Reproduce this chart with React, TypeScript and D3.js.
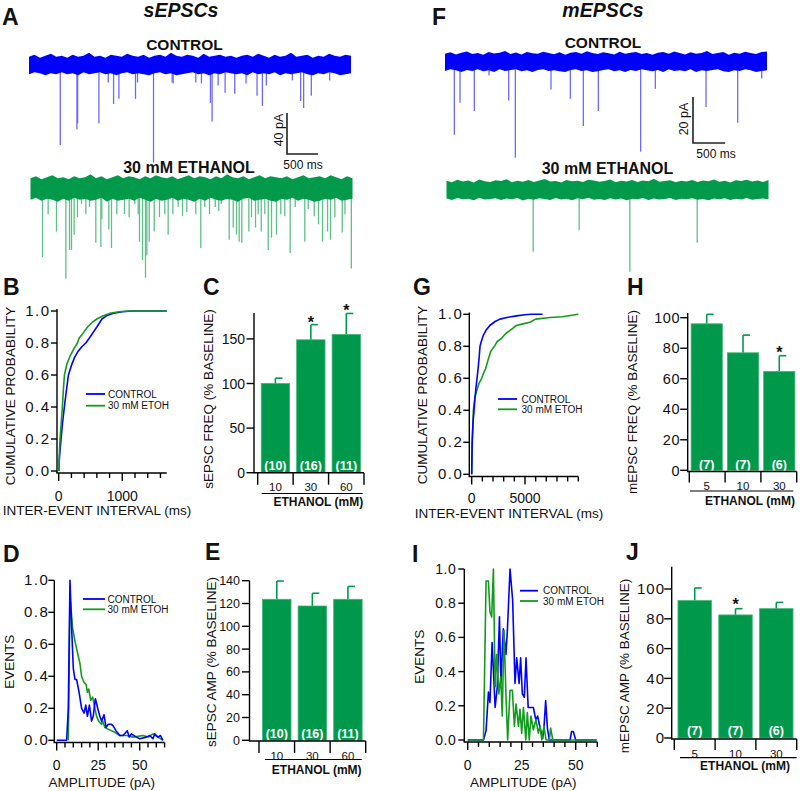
import React from "react";
import * as d3 from "d3";

const FONT = "'Liberation Sans', Arial, Helvetica, sans-serif";
const BLUE = "#0000ff";
const BLUE_EV = "#6a6aff";
const GREEN_TR = "#009a4a";
const GREEN_EV = "#5fbf88";
const LINE_GREEN = "#149a1e";
const BAR_GREEN = "#00994c";
const BAR_EDGE = "#3db577";

// ---------------- Panel A: sEPSC traces (ms, pA) ----------------
const sCtrlEvents: [number, number][] = [
  [505, 78], [774, 63], [785, 57], [1129, 57], [1280, 17], [1366, 38], [1452, 33],
  [1720, 33], [1753, 17], [2011, 95], [2312, 17], [2328, 18], [2694, 17], [2785, 18],
  [2930, 37], [2957, 55], [3054, 20], [3167, 27], [3323, 28], [3505, 18], [3683, 30],
  [3769, 40], [3833, 20], [4253, 15], [4387, 35], [4435, 42], [4559, 30], [4855, 15],
];
const sEthEvents: [number, number][] = [
  [194, 67], [285, 25], [420, 42], [571, 88], [630, 60], [662, 60], [705, 45], [759, 28],
  [824, 15], [894, 25], [953, 18], [1055, 53], [1136, 57], [1152, 30], [1265, 40], [1308, 58],
  [1394, 25], [1518, 25], [1593, 28], [1685, 15], [1739, 25], [1760, 52], [1809, 70], [1857, 87],
  [1879, 65], [1917, 52], [1998, 42], [2083, 28], [2169, 25], [2223, 45], [2299, 25], [2385, 18],
  [2455, 27], [2524, 23], [2670, 25], [2750, 58], [2815, 18], [2891, 25], [2983, 18], [3041, 22],
  [3080, 15], [3209, 50], [3274, 38], [3327, 45], [3370, 52], [3413, 53], [3526, 42], [3569, 28],
  [3634, 38], [3677, 25], [3726, 42], [3784, 25], [3839, 60], [3892, 48], [3973, 45], [4042, 25],
  [4107, 27], [4194, 63], [4275, 18], [4430, 52], [4485, 20], [4582, 27], [4651, 35], [4716, 52],
  [4797, 42], [4845, 50], [4915, 28], [5034, 43], [5078, 25], [5181, 78],
];
const sCtrlNoiseUp = [8, 10, 7, 9, 11, 8, 9, 7, 10, 8, 9, 12, 8, 9, 7, 10, 9, 8, 11, 9, 8, 10, 7, 9, 10, 8, 12, 9, 8, 10, 9, 7, 11, 8, 9, 10, 8, 9, 7, 9, 10, 8, 11, 9, 7, 10, 8, 9, 12, 8, 9, 10, 7, 9, 8, 11, 9, 8, 10, 9];
const sCtrlNoiseDn = [9, 7, 8, 10, 8, 9, 7, 9, 8, 10, 7, 9, 8, 7, 9, 8, 10, 8, 7, 9, 8, 9, 10, 8, 7, 9, 8, 10, 9, 8, 7, 9, 8, 10, 8, 9, 7, 8, 9, 8, 10, 7, 9, 8, 9, 7, 10, 8, 9, 8, 7, 9, 10, 8, 9, 7, 8, 10, 9, 8];
const sEthNoiseUp = [10, 12, 9, 11, 13, 10, 11, 9, 12, 10, 11, 14, 10, 12, 9, 11, 13, 10, 12, 11, 9, 12, 10, 13, 11, 10, 12, 9, 11, 13, 10, 12, 11, 9, 12, 10, 14, 11, 10, 12, 9, 11, 13, 10, 12, 11, 10, 12, 9, 11, 13, 10, 11, 12, 10, 13, 11, 9, 12, 10];
const sEthNoiseDn = [11, 9, 12, 10, 11, 13, 10, 12, 9, 11, 10, 12, 11, 9, 13, 10, 12, 11, 10, 12, 9, 11, 13, 10, 12, 11, 9, 12, 10, 11, 13, 10, 12, 9, 11, 12, 10, 11, 13, 10, 9, 12, 11, 10, 12, 13, 10, 11, 9, 12, 10, 11, 13, 12, 10, 11, 9, 12, 11, 10];

// ---------------- Panel F: mEPSC traces (ms, pA) ----------------
const mCtrlEvents: [number, number][] = [
  [145, 31.6], [233, 17.7], [455, 21.3], [683, 5.8], [989, 16.7], [1092, 41.6], [1646, 12],
  [1946, 16], [2148, 27.8], [2381, 21.3], [3038, 39], [3266, 11.6], [4053, 19.6], [4545, 26.4],
  [4918, 7.2],
];
const mEthEvents: [number, number][] = [[1346, 26.8], [2060, 17.5], [2847, 35.5], [3893, 22.9]];
const mCtrlNoiseUp = [3.6, 4.2, 3.3, 4.0, 4.6, 3.5, 3.9, 3.2, 4.3, 3.7, 4.0, 4.8, 3.5, 4.1, 3.3, 4.4, 3.8, 3.6, 4.5, 3.9, 3.4, 4.2, 3.2, 4.0, 4.3, 3.6, 4.7, 3.9, 3.5, 4.2, 3.8, 3.3, 4.5, 3.6, 4.0, 4.3, 3.5, 3.9, 3.2, 4.0, 4.4, 3.6, 4.6, 3.9, 3.3, 4.2, 3.6, 3.9, 4.8, 3.5, 3.9, 4.3, 3.2, 4.0, 3.6, 4.5, 3.9, 3.5, 4.3, 4.6];
const mCtrlNoiseDn = [3.9, 3.2, 3.6, 4.3, 3.5, 3.9, 3.1, 4.0, 3.6, 4.4, 3.2, 3.9, 3.5, 3.2, 4.0, 3.6, 4.4, 3.5, 3.2, 3.9, 3.6, 4.0, 4.4, 3.5, 3.2, 3.9, 3.6, 4.4, 4.0, 3.5, 3.2, 4.0, 3.6, 4.3, 3.5, 3.9, 3.2, 3.6, 4.0, 3.5, 4.4, 3.2, 3.9, 3.6, 4.0, 3.2, 4.4, 3.6, 3.9, 3.5, 3.2, 4.0, 4.4, 3.6, 3.9, 3.2, 3.6, 4.3, 3.9, 3.6];
const mEthNoiseUp = [4.0, 3.4, 4.5, 3.7, 4.1, 3.3, 4.6, 3.8, 3.5, 4.2, 3.9, 4.7, 3.4, 4.0, 3.6, 4.3, 3.5, 4.1, 4.8, 3.7, 3.9, 3.3, 4.4, 3.8, 4.0, 3.5, 4.5, 4.1, 3.6, 3.9, 4.6, 3.4, 4.0, 3.7, 4.3, 3.5, 4.1, 3.8, 4.9, 3.6, 3.9, 4.2, 3.4, 4.0, 3.7, 4.4, 3.5, 4.1, 3.8, 4.6, 3.6, 4.0, 3.3, 4.2, 3.9, 4.5, 3.7, 4.1, 3.5, 4.4];
const mEthNoiseDn = [3.7, 4.3, 3.5, 4.0, 3.8, 4.5, 3.4, 4.1, 3.9, 3.6, 4.4, 3.7, 4.0, 3.5, 4.6, 3.8, 4.2, 3.6, 3.9, 4.3, 3.5, 4.1, 3.8, 4.5, 3.6, 4.0, 3.4, 4.2, 3.9, 4.4, 3.6, 4.1, 3.7, 4.5, 3.8, 4.0, 3.5, 4.3, 3.7, 4.1, 3.9, 3.5, 4.4, 3.8, 4.0, 3.6, 4.2, 3.9, 4.5, 3.7, 4.0, 3.6, 4.3, 3.8, 4.1, 3.5, 4.2, 3.9, 3.7, 4.0];

// ---------------- Panel B: cumulative inter-event interval (ms) ----------------
const bCtrl: [number, number][] = [[0, 0], [15, 0.1], [37, 0.2], [60, 0.3], [89, 0.4], [120, 0.5], [153, 0.6], [200, 0.66], [250, 0.71], [300, 0.745], [360, 0.775], [426, 0.8], [480, 0.83], [540, 0.865], [600, 0.9], [680, 0.95], [750, 0.97], [850, 0.985], [1000, 0.995], [1150, 1.0], [1700, 1.0]];
const bEtoh: [number, number][] = [[0, 0], [10, 0.1], [21, 0.2], [40, 0.3], [58, 0.4], [72, 0.5], [90, 0.6], [130, 0.67], [180, 0.72], [240, 0.765], [295, 0.8], [320, 0.83], [380, 0.86], [453, 0.9], [530, 0.93], [600, 0.95], [700, 0.97], [800, 0.985], [950, 0.995], [1100, 1.0], [1700, 1.0]];

// ---------------- Panel D: amplitude histogram (pA) ----------------
const dCtrl: [number, number][] = [[0, 0], [6, 0], [7, 0.2], [8, 1.0], [9, 0.7], [10, 0.45], [11, 0.38], [12, 0.38], [13.5, 0.3], [15, 0.2], [16.5, 0.17], [17.5, 0.22], [18.5, 0.15], [19.7, 0.22], [21, 0.12], [22, 0.15], [23.3, 0.26], [24.7, 0.2], [26, 0.15], [27, 0.12], [28.5, 0.16], [29.7, 0.08], [31, 0.1], [33, 0.1], [34, 0.09], [35.7, 0.06], [38, 0.03], [40, 0.03], [42.5, 0.06], [43.7, 0.02], [45, 0.04], [48, 0.02], [50, 0.01], [54, 0.02], [56, 0.03], [58, 0.01], [59, 0.04], [61, 0.02], [62.5, 0.03], [64, 0]];
const dEtoh: [number, number][] = [[7, 0], [8, 0.9], [9.6, 0.7], [11, 0.62], [12.5, 0.55], [14, 0.48], [15, 0.4], [16.5, 0.36], [17.7, 0.35], [18.5, 0.3], [19.3, 0.32], [20.5, 0.25], [21.7, 0.27], [23, 0.2], [24, 0.15], [25.3, 0.12], [27, 0.1], [27.7, 0.12], [29, 0.08], [31, 0.07], [35, 0.05], [38, 0.03], [42, 0.03], [46, 0.02], [52, 0.03], [55, 0.02], [58, 0.04], [61, 0.02], [64, 0]];

// ---------------- Panel G: cumulative inter-event interval (ms) ----------------
const gCtrl: [number, number][] = [[0, 0], [40, 0.2], [120, 0.32], [220, 0.4], [300, 0.47], [400, 0.54], [500, 0.6], [600, 0.66], [700, 0.73], [780, 0.8], [900, 0.83], [1100, 0.87], [1340, 0.9], [1700, 0.93], [2190, 0.955], [2650, 0.97], [3300, 0.98], [4200, 0.99], [5000, 0.997], [5600, 1.0], [6650, 1.0]];
const gEtoh: [number, number][] = [[0, 0], [60, 0.2], [156, 0.4], [300, 0.48], [500, 0.53], [700, 0.57], [940, 0.6], [1100, 0.63], [1300, 0.66], [1560, 0.72], [1800, 0.77], [2125, 0.8], [2400, 0.83], [2800, 0.85], [3200, 0.88], [3600, 0.9], [4200, 0.93], [4800, 0.94], [5470, 0.95], [6000, 0.97], [7340, 0.98], [8500, 0.985], [10000, 1.0]];

// ---------------- Panel I: amplitude histogram (pA) ----------------
const iCtrl: [number, number][] = [[0, 0], [7.3, 0], [8.5, 0.055], [9.6, 0.28], [10.3, 0.22], [11.3, 0.57], [12.7, 0.19], [13.7, 0.31], [14.7, 0.72], [15.4, 0.33], [16.5, 0.65], [17.7, 0.5], [18.4, 0.65], [19.6, 1.0], [20.8, 0.82], [21.9, 0.33], [22.7, 0.48], [23.8, 0.33], [24.5, 0.48], [25.3, 0.27], [26.2, 0.25], [27, 0.48], [28, 0.19], [29.2, 0.19], [30.4, 0.19], [31.5, 0.12], [32.4, 0.14], [33.5, 0.07], [34.7, 0.01], [35.3, 0.07], [36.1, 0.23], [36.9, 0.07], [37.8, 0], [47.4, 0], [48.1, 0.05], [48.9, 0.05], [50, 0], [59.7, 0]];
const iEtoh: [number, number][] = [[0, 0], [7.3, 0], [8.5, 0.93], [9.6, 0.93], [10.3, 0.75], [11.1, 0.72], [11.9, 1.0], [12.7, 0.31], [13.4, 0.5], [14.4, 0.27], [15.3, 0.37], [16, 0.14], [16.8, 0.64], [17.7, 0.27], [18.5, 0], [19.6, 0.29], [20.7, 0.29], [21.6, 0.08], [22.4, 0.21], [23.5, 0.08], [24.2, 0.18], [25, 0.04], [25.8, 0.19], [26.9, 0], [27.6, 0.16], [28.5, 0], [29.3, 0.14], [30.4, 0.06], [31.6, 0.12], [32.7, 0.04], [33.5, 0.08], [34.3, 0], [35.3, 0.08], [36.3, 0], [37.8, 0], [38.4, 0.07], [39.4, 0], [59.7, 0]];

// ---------------- Bar charts ----------------
const sCats = ["10", "30", "60"];
const sN = ["(10)", "(16)", "(11)"];
const sFreqMean = [100, 149, 155];
const sFreqSem = [6, 17, 23.5];
const sFreqSig = [false, true, true];
const sAmpMean = [123.7, 117.8, 123.7];
const sAmpSem = [16, 11.2, 11.3];
const sAmpSig = [false, false, false];
const mCats = ["5", "10", "30"];
const mN = ["(7)", "(7)", "(6)"];
const mFreqMean = [96, 77, 64.8];
const mFreqSem = [6.2, 11.6, 10.3];
const mFreqSig = [false, false, true];
const mAmpMean = [92.2, 82.6, 86.8];
const mAmpSem = [8.5, 4.2, 4.2];
const mAmpSig = [false, true, false];

const LEG = ["CONTROL", "30 mM ETOH"];

function Trace({ x, y0, k, up, dn, events, dur, color, evColor }: any) {
  const n = up.length;
  const ts = up.map((_: number, i: number) => (i * dur) / (n - 1));
  const area = d3
    .area<number>()
    .x((_, i) => x(ts[i]))
    .y0((_, i) => y0 + dn[i] * k)
    .y1((_, i) => y0 - up[i] * k);
  return (
    <g>
      {events.map((e: [number, number], i: number) => (
        <line key={i} x1={x(e[0])} x2={x(e[0])} y1={y0} y2={y0 + e[1] * k} stroke={evColor} strokeWidth={1.3} />
      ))}
      <path d={area(up) || ""} fill={color} />
    </g>
  );
}

function ScaleBar({ cx, cy, x, k, pa, ms, paLabel, msLabel, paX, paY, msX, msY }: any) {
  const h = pa * k;
  const w = x(ms) - x(0);
  return (
    <g>
      <path d={`M${cx},${cy - h}V${cy}H${cx + w}`} fill="none" stroke="#222" strokeWidth={1.6} />
      <text transform={`translate(${paX},${paY}) rotate(-90)`} textAnchor="middle" fontSize={12.5}>{paLabel}</text>
      <text x={msX} y={msY} textAnchor="middle" fontSize={12}>{msLabel}</text>
    </g>
  );
}

function LinePanel(p: any) {
  const x = d3.scaleLinear().domain(p.xd).range(p.xr);
  const y = d3.scaleLinear().domain([0, 1]).range(p.yr);
  const line = d3.line<[number, number]>().x((d) => x(d[0])).y((d) => y(d[1]));
  const yTicks = d3.range(0, 1.0001, 0.2);
  const minor = d3.range(0, p.xd[1] + 0.001, p.minorStep);
  return (
    <g>
      <line x1={p.ax} x2={p.ax} y1={y(p.yTopV)} y2={p.axisY} stroke="#000" strokeWidth={1.4} />
      {yTicks.map((v: number) => (
        <g key={v}>
          <line x1={p.ax - 6} x2={p.ax} y1={y(v)} y2={y(v)} stroke="#000" strokeWidth={1.4} />
          <text x={p.ax - p.labGap} y={y(v) + 5} textAnchor="end" fontSize={p.yFont} letterSpacing={p.yLS}>{v.toFixed(1)}</text>
        </g>
      ))}
      <line x1={p.ax - 0.7} x2={p.xr[1]} y1={p.axisY} y2={p.axisY} stroke="#000" strokeWidth={1.4} />
      {minor.map((v: number) => (
        <line key={v} x1={x(v)} x2={x(v)} y1={p.axisY} y2={p.axisY + (p.xMajor.includes(v) ? 8 : 5)} stroke="#000" strokeWidth={1.4} />
      ))}
      {p.xMajor.map((v: number) => (
        <text key={v} x={x(v)} y={p.xLabelY} textAnchor="middle" fontSize={14}>{v}</text>
      ))}
      <text x={p.xTitleX} y={p.xTitleY} textAnchor="middle" fontSize={13.5}>{p.xTitle}</text>
      <text transform={`translate(${p.yTitleX},${p.yTitleY}) rotate(-90)`} textAnchor="middle" fontSize={13.5}>{p.yTitle}</text>
      {p.series.map((s: any, i: number) => (
        <path key={i} d={line(s.data) || ""} fill="none" stroke={s.color} strokeWidth={1.6} strokeLinejoin="round" />
      ))}
      {[BLUE, LINE_GREEN].map((c, i) => (
        <g key={c}>
          <line x1={p.legX1} x2={p.legX2} y1={p.legY[i]} y2={p.legY[i]} stroke={c} strokeWidth={1.8} />
          <text x={p.legTX} y={p.legY[i] + 3.6} fontSize={10}>{LEG[i]}</text>
        </g>
      ))}
    </g>
  );
}

function BarPanel(p: any) {
  const y = d3.scaleLinear().domain(p.yd).range(p.yr);
  const x = d3.scaleBand<string>().domain(p.cats).range(p.band).paddingInner(p.padIn).paddingOuter(p.padOut);
  const seps = d3.range(0, p.cats.length + 1).map((i: number) => p.band[0] + (i * (p.band[1] - p.band[0])) / p.cats.length);
  const bw = x.bandwidth();
  return (
    <g>
      {p.cats.map((c: string, i: number) => {
        const cx = (x(c) || 0) + bw / 2;
        const top = y(p.mean[i]);
        const et = y(p.mean[i] + p.sem[i]);
        return (
          <g key={c}>
            <line x1={cx} x2={cx} y1={top} y2={et} stroke={BAR_GREEN} strokeWidth={1.6} />
            <line x1={cx} x2={cx + 7} y1={et} y2={et} stroke={BAR_GREEN} strokeWidth={1.6} />
            <rect x={x(c)} y={top} width={bw} height={y(0) - top} fill={BAR_GREEN} stroke={BAR_EDGE} strokeWidth={0.8} />
            <text x={cx} y={p.nY} textAnchor="middle" fontSize={12.5} fontWeight="bold" fill="#fff">{p.ns[i]}</text>
            {p.sig[i] && (
              <text x={cx} y={et + p.astOff} textAnchor="middle" fontSize={16} fontWeight="bold">*</text>
            )}
            <text x={(x(c) || 0) + bw / 2} y={p.catY} textAnchor="middle" fontSize={11.5}>{c}</text>
          </g>
        );
      })}
      <line x1={p.ax} x2={p.ax} y1={y(p.axisTopV)} y2={p.xAxisY} stroke="#000" strokeWidth={1.4} />
      {p.yTicks.map((v: number) => (
        <g key={v}>
          <line x1={p.ax - 7.5} x2={p.ax} y1={y(v)} y2={y(v)} stroke="#000" strokeWidth={1.4} />
          <text x={p.labelRight} y={y(v) + 0.36 * p.yFont} textAnchor="end" fontSize={p.yFont} letterSpacing={p.yLS}>{v}</text>
        </g>
      ))}
      <line x1={p.ax - 0.7} x2={p.band[1]} y1={p.xAxisY} y2={p.xAxisY} stroke="#000" strokeWidth={1.4} />
      {seps.map((s: number, i: number) => (
        <line key={i} x1={s} x2={s} y1={p.xAxisY} y2={p.xAxisY + p.tickLen} stroke="#000" strokeWidth={1.4} />
      ))}
      <line x1={p.under[0]} x2={p.under[1]} y1={p.underY} y2={p.underY} stroke="#000" strokeWidth={1.2} />
      <text x={p.ethX} y={p.ethY} textAnchor="middle" fontSize={12} fontWeight="bold">ETHANOL (mM)</text>
      <text transform={`translate(${p.yTitleX},${p.yTitleY}) rotate(-90)`} textAnchor="middle" fontSize={13.5}>{p.yTitle}</text>
    </g>
  );
}

export default function App() {
  const sx = d3.scaleLinear().domain([0, 5200]).range([29, 351]);
  const sxE = d3.scaleLinear().domain([0, 5200]).range([30.5, 352.5]);
  const mx = d3.scaleLinear().domain([0, 5000]).range([445, 767]);
  const mxE = d3.scaleLinear().domain([0, 5000]).range([446.5, 768.5]);
  const sK = 1.025;
  const mK = 2.3;
  const letter = (t: string, x: number, y: number) => (
    <text x={x} y={y} fontSize={23} fontWeight="bold">{t}</text>
  );
  return (
    <svg width={800} height={791} style={{ position: "absolute", left: 0, top: 0 }} fontFamily={FONT}>
      <rect width={800} height={791} fill="#fff" />
      <g fill="#111">
        {letter("A", 2, 25)}
        {letter("F", 432, 25)}
        {letter("B", 3, 295)}
        {letter("C", 203, 295)}
        {letter("G", 413, 295)}
        {letter("H", 627, 295)}
        {letter("D", 3, 562)}
        {letter("E", 205, 560)}
        {letter("I", 412, 562)}
        {letter("J", 626, 560)}
        <text x={181} y={17} textAnchor="middle" fontSize={19.5} fontWeight="bold" fontStyle="italic">sEPSCs</text>
        <text x={603} y={17} textAnchor="middle" fontSize={19.5} fontWeight="bold" fontStyle="italic">mEPSCs</text>
        <text x={184.5} y={50} textAnchor="middle" fontSize={15.5} fontWeight="bold">CONTROL</text>
        <text x={189} y={173.3} textAnchor="middle" fontSize={16} fontWeight="bold">30 mM ETHANOL</text>
        <text x={603} y={48.3} textAnchor="middle" fontSize={15.5} fontWeight="bold">CONTROL</text>
        <text x={607.5} y={174} textAnchor="middle" fontSize={16} fontWeight="bold">30 mM ETHANOL</text>
      </g>

      <Trace x={sx} y0={65} k={sK} up={sCtrlNoiseUp} dn={sCtrlNoiseDn} events={sCtrlEvents} dur={5200} color={BLUE} evColor={BLUE_EV} />
      <Trace x={sxE} y0={188.5} k={sK} up={sEthNoiseUp} dn={sEthNoiseDn} events={sEthEvents} dur={5200} color={GREEN_TR} evColor={GREEN_EV} />
      <Trace x={mx} y0={62} k={mK} up={mCtrlNoiseUp} dn={mCtrlNoiseDn} events={mCtrlEvents} dur={5000} color={BLUE} evColor={BLUE_EV} />
      <Trace x={mxE} y0={190} k={mK} up={mEthNoiseUp} dn={mEthNoiseDn} events={mEthEvents} dur={5000} color={GREEN_TR} evColor={GREEN_EV} />

      <g fill="#111">
        <ScaleBar cx={287} cy={154} x={sx} k={sK} pa={40} ms={500} paLabel="40 pA" msLabel="500 ms" paX={283} paY={130} msX={303} msY={169.3} />
        <ScaleBar cx={693} cy={143} x={mx} k={mK} pa={20} ms={500} paLabel="20 pA" msLabel="500 ms" paX={688} paY={119} msX={716} msY={158} />

        <LinePanel
          ax={57} xd={[0, 1700]} xr={[58.7, 166.8]} yr={[471, 311]} axisY={473} yTopV={1.012}
          minorStep={200} xMajor={[0, 1000]} xLabelY={500.5} yFont={15} yLS={1.5} labGap={6.5}
          xTitle="INTER-EVENT INTERVAL (ms)" xTitleX={97} xTitleY={514.5}
          yTitle="CUMULATIVE PROBABILITY" yTitleX={14.5} yTitleY={396}
          series={[{ data: bCtrl, color: BLUE }, { data: bEtoh, color: LINE_GREEN }]}
          legX1={86} legX2={105} legY={[394, 405.7]} legTX={108}
        />
        <LinePanel
          ax={54.3} xd={[0, 65]} xr={[56.7, 164.6]} yr={[740.3, 580.3]} axisY={742.5} yTopV={1.0}
          minorStep={5} xMajor={[0, 25, 50]} xLabelY={770} yFont={15} yLS={1.5} labGap={5}
          xTitle="AMPLITUDE (pA)" xTitleX={101.7} xTitleY={787}
          yTitle="EVENTS" yTitleX={13.5} yTitleY={661.7}
          series={[{ data: dEtoh, color: LINE_GREEN }, { data: dCtrl, color: BLUE }]}
          legX1={83} legX2={105} legY={[599, 609.3]} legTX={107.5}
        />
        <LinePanel
          ax={469.3} xd={[0, 10000]} xr={[471.7, 578.3]} yr={[474.3, 314.3]} axisY={476.5} yTopV={1.012}
          minorStep={1000} xMajor={[0, 5000]} xLabelY={503} yFont={15} yLS={1.5} labGap={6}
          xTitle="INTER-EVENT INTERVAL (ms)" xTitleX={509} xTitleY={518}
          yTitle="CUMULATIVE PROBABILITY" yTitleX={426.5} yTitleY={395}
          series={[{ data: gEtoh, color: LINE_GREEN }, { data: gCtrl, color: BLUE }]}
          legX1={498} legX2={517} legY={[399, 409.3]} legTX={521.5}
        />
        <LinePanel
          ax={464.3} xd={[0, 60]} xr={[467.7, 597.3]} yr={[740, 569]} axisY={742} yTopV={1.0}
          minorStep={5} xMajor={[0, 25, 50]} xLabelY={770} yFont={14} yLS={0.5} labGap={8}
          xTitle="AMPLITUDE (pA)" xTitleX={523.3} xTitleY={787}
          yTitle="EVENTS" yTitleX={423.5} yTitleY={656.7}
          series={[{ data: iCtrl, color: BLUE }, { data: iEtoh, color: LINE_GREEN }]}
          legX1={520} legX2={538} legY={[590.7, 601]} legTX={543}
        />

        <BarPanel
          cats={sCats} mean={sFreqMean} sem={sFreqSem} sig={sFreqSig} ns={sN}
          ax={254} yd={[0, 150]} yr={[472.7, 338.9]} axisTopV={179} yTicks={[0, 50, 100, 150]} labelRight={245} yFont={14} yLS={0}
          xAxisY={472.7} band={[257.7, 364]} padIn={0.2} padOut={0.1} tickLen={12}
          catY={491} underY={493.5} under={[261.7, 362.7]} ethX={318.3} ethY={506} nY={469.5} astOff={3}
          yTitle="sEPSC FREQ (% BASELINE)" yTitleX={213} yTitleY={399}
        />
        <BarPanel
          cats={sCats} mean={sAmpMean} sem={sAmpSem} sig={sAmpSig} ns={sN}
          ax={249.5} yd={[0, 140]} yr={[740.3, 580.7]} axisTopV={140} yTicks={[0, 20, 40, 60, 80, 100, 120, 140]} labelRight={240} yFont={12.5} yLS={0}
          xAxisY={741} band={[259, 365.7]} padIn={0.2} padOut={0.1} tickLen={12}
          catY={760} underY={759.5} under={[265, 361.7]} ethX={316.7} ethY={774} nY={738} astOff={3}
          yTitle="sEPSC AMP (% BASELINE)" yTitleX={215.5} yTitleY={662}
        />
        <BarPanel
          cats={mCats} mean={mFreqMean} sem={mFreqSem} sig={mFreqSig} ns={mN}
          ax={687.7} yd={[0, 100]} yr={[470.3, 317.7]} axisTopV={103} yTicks={[0, 20, 40, 60, 80, 100]} labelRight={680} yFont={14.5} yLS={0.5}
          xAxisY={471.5} band={[689.3, 796.7]} padIn={0.14} padOut={0.05} tickLen={11}
          catY={489.5} underY={491} under={[690, 793.3]} ethX={750} ethY={505} nY={468.5} astOff={2}
          yTitle="mEPSC FREQ (% BASELINE)" yTitleX={636.5} yTitleY={402}
        />
        <BarPanel
          cats={mCats} mean={mAmpMean} sem={mAmpSem} sig={mAmpSig} ns={mN}
          ax={671.7} yd={[0, 100]} yr={[738, 589]} axisTopV={115} yTicks={[0, 20, 40, 60, 80, 100]} labelRight={665} yFont={15} yLS={1}
          xAxisY={739} band={[674.3, 796.7]} padIn={0.18} padOut={0.09} tickLen={11}
          catY={757.5} underY={757.7} under={[680, 796.7]} ethX={745} ethY={770} nY={735} astOff={1.5}
          yTitle="mEPSC AMP (% BASELINE)" yTitleX={629} yTitleY={666}
        />
      </g>
    </svg>
  );
}
